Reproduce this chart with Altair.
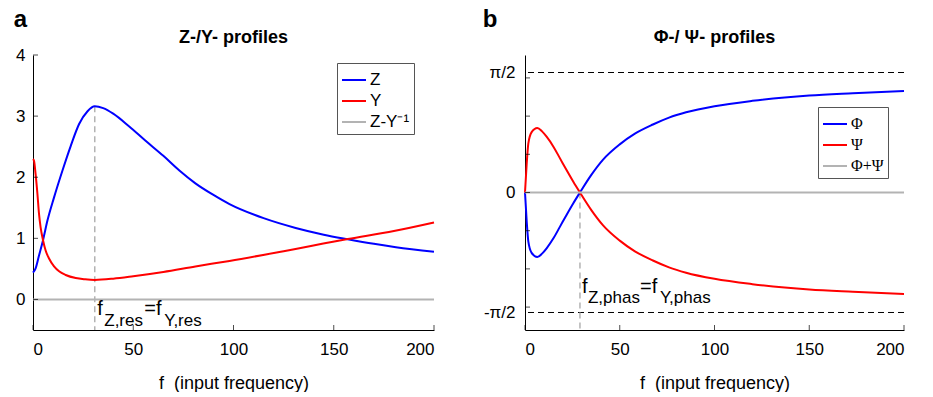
import math
import altair as alt
import pandas as pd

# ---------------- Panel a : Z-/Y- profiles ----------------
z_f = [0, 1.3, 3, 5, 7.2, 10.5, 14.7, 18.8, 23, 27.2, 30.8, 35, 40, 48, 56, 65, 73, 81, 90, 98,
       115, 131, 145, 157, 170, 181, 200]
z_val = [0.44, 0.51, 0.72, 0.97, 1.29, 1.67, 2.11, 2.51, 2.87, 3.08, 3.16, 3.13, 3.04, 2.83, 2.60,
         2.35, 2.11, 1.90, 1.71, 1.56, 1.33, 1.17, 1.06, 0.985, 0.91, 0.855, 0.78]
y_f = [0, 0.5, 1.3, 2.2, 3, 3.8, 5, 6.3, 8, 10.5, 13, 16.3, 21.3, 26, 30.8, 40, 50, 65, 81, 98,
       125, 157, 180, 200]
y_val = [2.30, 2.27, 2.05, 1.73, 1.40, 1.18, 0.97, 0.80, 0.67, 0.54, 0.46, 0.40, 0.35, 0.33, 0.32,
         0.34, 0.38, 0.45, 0.54, 0.63, 0.79, 0.99, 1.12, 1.26]
zy_f = [0, 200]
zy_val = [0, 0]
a_names = ["Z", "Y", "Z-Y\u207b\u00b9"]
res_f = 30.8
res_top = 3.16

# ---------------- Panel b : Phi-/Psi- profiles ----------------
phi_f = [0, 0.9, 1.75, 3.5, 6.5, 9, 11.4, 15, 18.4, 22, 25.5, 29, 35, 41.2, 50, 58, 67.5, 76, 85,
         100, 120, 150, 173, 200]
phi_val = [0, -0.38, -0.64, -0.79, -0.845, -0.80, -0.73, -0.60, -0.45, -0.29, -0.14, 0, 0.23, 0.43,
           0.63, 0.77, 0.89, 0.98, 1.05, 1.13, 1.20, 1.27, 1.30, 1.33]
psi_f = [0, 0.9, 1.75, 3.5, 6.5, 9, 11.4, 15, 18.4, 22, 25.5, 29, 35, 41.2, 50, 58, 67.5, 76, 85,
         100, 120, 150, 173, 200]
psi_val = [0, 0.38, 0.64, 0.79, 0.845, 0.80, 0.73, 0.60, 0.45, 0.29, 0.14, 0, -0.23, -0.43,
           -0.63, -0.77, -0.89, -0.98, -1.05, -1.13, -1.20, -1.27, -1.30, -1.33]
sum_f = [0, 200]
sum_val = [0, 0]
b_names = ["\u03a6", "\u03a8", "\u03a6+\u03a8"]
phas_f = 29
half_pi = [-math.pi / 2, math.pi / 2]

# ---------------- ticks ----------------
x_ticks = [0, 50, 100, 150, 200]
a_y_ticks = [0, 1, 2, 3, 4]
b_y_ticks = [-1.5, -1, -0.5, 0, 0.5, 1, 1.5]
b_y_labels = [-math.pi / 2, 0, math.pi / 2]

BLUE, RED, GRAY = "#0000ff", "#ff0000", "#b3b3b3"
FONT = "Liberation Sans"
SERIF = "Liberation Serif"


def series(fs, vs, name):
    return pd.DataFrame({"f": fs, "v": vs, "s": name})


def panel(lines_df, names, xdom, ydom, yvals, label_expr, ytick_vals, width, title,
          legend_xy, legend_font, legend_fs, vdash, ann, letter, letter_x, ylabpad):
    xaxis = alt.Axis(values=x_ticks, title="f\u00a0\u00a0(input frequency)", grid=False,
                     ticks=False, tickSize=0, labelPadding=11, titlePadding=17,
                     labelFontSize=17, titleFontSize=18, titleFontWeight="normal",
                     domainColor="black", labelColor="black", titleColor="black",
                     labelFont=FONT, titleFont=FONT, format="d")
    yargs = dict(values=yvals, title=None, grid=False, ticks=False, tickSize=0,
                 labelPadding=ylabpad, labelFontSize=17, domainColor="black",
                 labelColor="black", labelFont=FONT)
    if label_expr:
        yargs["labelExpr"] = label_expr
    else:
        yargs["format"] = "d"
    yaxis = alt.Axis(**yargs)
    xs = alt.Scale(domain=xdom, nice=False, zero=False)
    ys = alt.Scale(domain=ydom, nice=False, zero=False)
    xe = alt.X("f:Q", scale=xs, axis=xaxis)
    ye = alt.Y("v:Q", scale=ys, axis=yaxis)

    lines = alt.Chart(lines_df).mark_line(strokeWidth=2, interpolate="monotone").encode(
        x=xe, y=ye,
        color=alt.Color("s:N", scale=alt.Scale(domain=names, range=[BLUE, RED, GRAY]),
                        legend=alt.Legend(title=None, orient="none", legendX=legend_xy[0],
                                          legendY=legend_xy[1], symbolType="stroke",
                                          symbolSize=576, symbolStrokeWidth=2,
                                          labelFontSize=legend_fs, labelFont=legend_font,
                                          labelColor="black", padding=4, rowPadding=0,
                                          labelOffset=3, strokeColor="#555555",
                                          fillColor="white", cornerRadius=0)),
        detail="s:N",
    )
    layers = []
    vd = pd.DataFrame({"f": [vdash[0]], "v": [vdash[1]], "v2": [ydom[0]]})
    layers.append(alt.Chart(vd).mark_rule(color=GRAY, strokeWidth=1.5, strokeDash=[6, 4]).encode(
        x=xe, y=ye, y2="v2:Q"))
    layers.append(lines)
    # inward ticks
    xt = pd.DataFrame({"f": x_ticks})
    layers.append(alt.Chart(xt).mark_tick(orient="vertical", size=5, thickness=1, color="black",
                                          yOffset=-2.5).encode(x=xe, y=alt.datum(ydom[0])))
    yt = pd.DataFrame({"v": ytick_vals})
    layers.append(alt.Chart(yt).mark_tick(orient="horizontal", size=5, thickness=1, color="black",
                                          xOffset=2.5).encode(y=ye, x=alt.datum(xdom[0])))
    # annotation pieces
    for txt, dx, dy, size in ann[1]:
        d = pd.DataFrame({"f": [ann[0]], "v": [ydom[0]], "t": [txt]})
        layers.append(alt.Chart(d).mark_text(align="left", baseline="alphabetic", dx=dx, dy=dy,
                                             fontSize=size, font=FONT, color="black").encode(
            x=xe, y=ye, text="t:N"))
    # panel title
    td = pd.DataFrame({"t": [title]})
    layers.append(alt.Chart(td).mark_text(align="center", baseline="alphabetic", fontSize=18,
                                          fontWeight="bold", font=FONT, color="black").encode(
        x=alt.value(width / 2), y=alt.value(-12), text="t:N"))
    # panel letter
    ld = pd.DataFrame({"t": [letter]})
    layers.append(alt.Chart(ld).mark_text(align="center", baseline="alphabetic", fontSize=24,
                                          fontWeight="bold", font=FONT, color="black").encode(
        x=alt.value(letter_x), y=alt.value(-28), text="t:N"))
    return layers, xe, ye


a_df = pd.concat([series(z_f, z_val, a_names[0]), series(y_f, y_val, a_names[1]),
                  series(zy_f, zy_val, a_names[2])])
a_layers, _, _ = panel(
    a_df, a_names, [0, 200], [-0.5, 4], a_y_ticks, None, a_y_ticks, 401, "Z-/Y- profiles",
    (304, 8), FONT, 17, (res_f, res_top),
    (res_f, [("f", 2.5, -15, 20), ("Z,res", 9.5, -4, 17), ("=f", 49.5, -15, 20),
             ("Y,res", 69.5, -4, 17)]),
    "a", -12.5, 8)

b_df = pd.concat([series(phi_f, phi_val, b_names[0]), series(psi_f, psi_val, b_names[1]),
                  series(sum_f, sum_val, b_names[2])])
b_layers, bxe, bye = panel(
    b_df, b_names, [0, 200], [-1.8, 1.8], b_y_labels,
    "datum.value > 1 ? '\u03c0/2' : (datum.value < -1 ? '-\u03c0/2' : '0')",
    b_y_ticks, 379, "\u03a6-/ \u03a8- profiles",
    (293, 52), SERIF, 16, (phas_f, 0),
    (phas_f, [("f", 2, -37, 20), ("Z,phas", 8, -27, 17), ("=f", 60, -37, 20),
              ("Y,phas", 80, -27, 17)]),
    "b", -35, 10)
hp = pd.DataFrame({"v": half_pi})
b_layers.insert(0, alt.Chart(hp).mark_rule(color="black", strokeWidth=1, strokeDash=[6, 4]).encode(
    y=bye))

left = alt.layer(*a_layers).properties(width=401, height=275)
right = alt.layer(*b_layers).properties(width=379, height=275)

chart = alt.hconcat(left, right, spacing=44).resolve_scale(color="independent").configure(
    padding={"left": 13, "top": 8, "right": 0, "bottom": 0},
    font=FONT,
).configure_view(stroke=None)

chart.save("out.html", embed_options={"renderer": "svg", "actions": False})
